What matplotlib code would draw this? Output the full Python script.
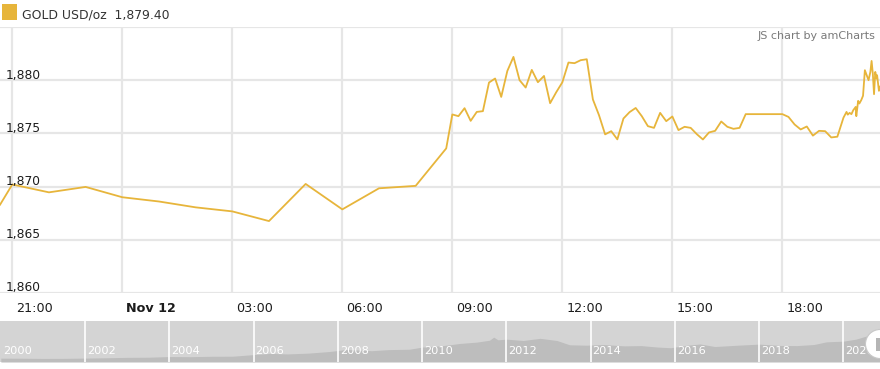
import matplotlib
matplotlib.use('Agg')
import matplotlib.pyplot as plt
import matplotlib.transforms as mtransforms
from matplotlib.patches import Circle, Rectangle, FancyBboxPatch

# ---------------- data ----------------
times = [
    "11 20:40", "11 21:00", "11 22:00", "11 23:00", "12 00:00", "12 01:00",
    "12 02:00", "12 03:00", "12 04:00", "12 05:00", "12 06:00", "12 07:00",
    "12 08:00", "12 08:50",
    "12 09:00", "12 09:10", "12 09:20", "12 09:30", "12 09:40", "12 09:50",
    "12 10:00", "12 10:10", "12 10:20", "12 10:30", "12 10:40", "12 10:50",
    "12 11:00", "12 11:10", "12 11:20", "12 11:30", "12 11:40", "12 11:50",
    "12 12:00", "12 12:10", "12 12:20", "12 12:30", "12 12:40", "12 12:50",
    "12 13:00", "12 13:10", "12 13:20", "12 13:30", "12 13:40", "12 13:50",
    "12 14:00", "12 14:10", "12 14:20", "12 14:30", "12 14:40", "12 14:50",
    "12 15:00", "12 15:10", "12 15:20", "12 15:30", "12 15:40", "12 15:50",
    "12 16:00", "12 16:10", "12 16:20", "12 16:30", "12 16:40", "12 16:50",
    "12 17:00", "12 17:10", "12 17:20", "12 17:30", "12 17:40", "12 17:50",
    "12 18:00", "12 18:10", "12 18:20", "12 18:30", "12 18:40", "12 18:50",
    "12 19:00", "12 19:10", "12 19:20", "12 19:30", "12 19:40",
    "12 19:45", "12 19:47", "12 19:50", "12 19:53", "12 19:56", "12 20:00",
    "12 20:01", "12 20:04", "12 20:06", "12 20:09", "12 20:12", "12 20:15",
    "12 20:18", "12 20:21", "12 20:24", "12 20:26", "12 20:28", "12 20:30",
    "12 20:32", "12 20:34", "12 20:35", "12 20:38", "12 20:40",
]
prices = [
    1868.30, 1870.20, 1869.46, 1869.97, 1869.00, 1868.60,
    1868.05, 1867.67, 1866.76, 1870.25, 1867.86, 1869.84,
    1870.07, 1873.59,
    1876.78, 1876.62, 1877.37, 1876.18, 1877.02, 1877.09,
    1879.78, 1880.16, 1878.43, 1880.87, 1882.19, 1880.00,
    1879.31, 1880.97, 1879.81, 1880.40, 1877.84, 1878.87,
    1879.80, 1881.66, 1881.60, 1881.88, 1881.97, 1878.19,
    1876.71, 1874.91, 1875.21, 1874.44, 1876.40, 1877.00,
    1877.39, 1876.62, 1875.68, 1875.52, 1876.93, 1876.15,
    1876.59, 1875.31, 1875.62, 1875.52, 1874.93, 1874.43,
    1875.09, 1875.24, 1876.12, 1875.62, 1875.43, 1875.52,
    1876.81, 1876.81, 1876.81, 1876.81, 1876.81, 1876.81,
    1876.81, 1876.55, 1875.84, 1875.37, 1875.65, 1874.79,
    1875.24, 1875.21, 1874.62, 1874.69, 1876.48,
    1877.02, 1876.76, 1876.93, 1876.81, 1877.18, 1877.49,
    1876.62, 1878.06, 1877.81, 1878.12, 1878.54, 1880.94,
    1880.47, 1880.00, 1880.78, 1881.81, 1880.63, 1878.69,
    1880.78, 1880.16, 1880.47, 1879.00, 1879.40,
]
x_ticks = ["11 21:00", "12 00:00", "12 03:00", "12 06:00", "12 09:00",
           "12 12:00", "12 15:00", "12 18:00"]
x_tick_labels = ["21:00", "Nov 12", "03:00", "06:00", "09:00", "12:00",
                 "15:00", "18:00"]
y_ticks = [1860, 1865, 1870, 1875, 1880, 1885]
y_tick_labels = ["1,860", "1,865", "1,870", "1,875", "1,880", ""]

title_text = "GOLD USD/oz"
last_value_text = "1,879.40"
credit_text = "JS chart by amCharts"

# navigator: long-term gold price overview
nav_years = [2000.0, 2000.5, 2001.0, 2001.5, 2002.0, 2002.5, 2003.0, 2003.5,
             2004.0, 2004.5, 2005.0, 2005.5, 2006.0, 2006.4, 2006.8, 2007.3,
             2007.8, 2008.2, 2008.8, 2009.2, 2009.7, 2010.0, 2010.5, 2010.9,
             2011.3, 2011.6, 2011.7, 2011.8, 2012.0, 2012.4, 2012.8, 2013.2,
             2013.5, 2013.9, 2014.3, 2014.8, 2015.2, 2015.6, 2015.9, 2016.3,
             2016.6, 2016.95, 2017.5, 2018.0, 2018.5, 2018.9, 2019.3, 2019.6,
             2020.0, 2020.3, 2020.6, 2020.87]
nav_prices = [285, 280, 265, 270, 290, 315, 345, 355,
              405, 395, 425, 430, 550, 640, 600, 660,
              780, 930, 840, 920, 950, 1110, 1220, 1380,
              1480, 1620, 1850, 1650, 1700, 1600, 1760, 1600,
              1280, 1250, 1300, 1200, 1220, 1110, 1060, 1250,
              1340, 1150, 1250, 1330, 1230, 1220, 1300, 1500,
              1550, 1700, 1980, 1880]
nav_label_years = [2000, 2002, 2004, 2006, 2008, 2010, 2012, 2014, 2016,
                   2018, 2020]


def to_hours(s):
    day, hm = s.split()
    hh, mm = hm.split(':')
    return (int(day) - 12) * 24 + int(hh) + int(mm) / 60.0


hours = [to_hours(t) for t in times]
tick_hours = [to_hours(t) for t in x_ticks]

# ---------------- styling ----------------
W, H = 880, 369
DPI = 100
GOLD = '#e7b53b'
GRID = '#e6e6e6'
TEXT = '#1c1c1c'
plt.rcParams['font.family'] = ['DejaVu Sans']

fig = plt.figure(figsize=(W / DPI, H / DPI), dpi=DPI)
fig.patch.set_facecolor('white')

# main plot: y from 27 to 293 px
ax = fig.add_axes([0, (H - 293) / H, 1, (293 - 27) / H])
ax.set_facecolor('white')
ax.plot(hours, prices, color=GOLD, lw=1.3, solid_joinstyle='round', zorder=3)
ax.set_xlim((0 - 122.3) / 36.67, (880 - 122.3) / 36.67)
ax.set_ylim(1860, 1885)
ax.set_xticks(tick_hours)
ax.set_yticks(y_ticks)
ax.tick_params(length=0, labelbottom=False, labelleft=False)
ax.grid(True, color=GRID, lw=1.6, zorder=0)
for sp in ax.spines.values():
    sp.set_visible(False)

# x labels (left aligned just right of gridline)
xoff = mtransforms.ScaledTranslation(4 / DPI, -15 / DPI, fig.dpi_scale_trans)
for h, lab in zip(tick_hours, x_tick_labels):
    ax.text(h, 0, lab, transform=ax.get_xaxis_transform() + xoff,
            ha='left', va='center', fontsize=9.2, color=TEXT,
            fontweight='bold' if lab.startswith('Nov') else 'normal',
            clip_on=False)

# y labels (inside plot, sitting on gridline)
yoff = mtransforms.ScaledTranslation(6 / DPI, 1.5 / DPI, fig.dpi_scale_trans)
for v, lab in zip(y_ticks, y_tick_labels):
    if lab:
        ax.text(0, v, lab, transform=ax.get_yaxis_transform() + yoff,
                ha='left', va='baseline', fontsize=8.8, color=TEXT,
                clip_on=False, zorder=4)

# credit
fig.text(875 / W, 1 - 36 / H, credit_text, ha='right', va='center',
         fontsize=8, color='#7a7a7a')

# legend/title
fig.patches.append(Rectangle((2 / W, 1 - 20 / H), 15 / W, 16 / H,
                             transform=fig.transFigure, facecolor=GOLD,
                             edgecolor='none'))
fig.text(22 / W, 1 - 19 / H, title_text + "  " + last_value_text,
         ha='left', va='baseline', fontsize=8.9, color='#333333')

# navigator: y from 321 to 362 px
nav = fig.add_axes([0, (H - 362) / H, 1, (362 - 321) / H])
nav.set_facecolor('#d4d4d4')
nav.fill_between(nav_years, nav_prices, 0, color='#bdbdbd', lw=0, zorder=1)
nav.set_xlim(1999.98, 2020.87)
nav.set_ylim(0, 3050)
nav.set_xticks([])
nav.set_yticks([])
for sp in nav.spines.values():
    sp.set_visible(False)
for yr in nav_label_years:
    if yr > 2000:
        nav.axvline(yr, color='white', lw=1.4, alpha=0.85, zorder=2)
noff = mtransforms.ScaledTranslation(2 / DPI, 0, fig.dpi_scale_trans)
for yr in nav_label_years:
    nav.text(yr, 0.27, str(yr), transform=nav.get_xaxis_transform() + noff,
             ha='left', va='center', fontsize=8.2, color='white', zorder=3)

# scrollbar grip
fig.patches.append(Circle((880 / DPI, (H - 344) / DPI), 14.5 / DPI,
                          transform=fig.dpi_scale_trans, facecolor='white',
                          edgecolor='#c8c8c8', lw=0.8, zorder=5))
fig.patches.append(Rectangle((876 / DPI, (H - 351) / DPI), 6 / DPI, 13 / DPI,
                             transform=fig.dpi_scale_trans,
                             facecolor='#b5b5b5', edgecolor='none', zorder=6))

fig.savefig('out.png', dpi=DPI, facecolor='white')
